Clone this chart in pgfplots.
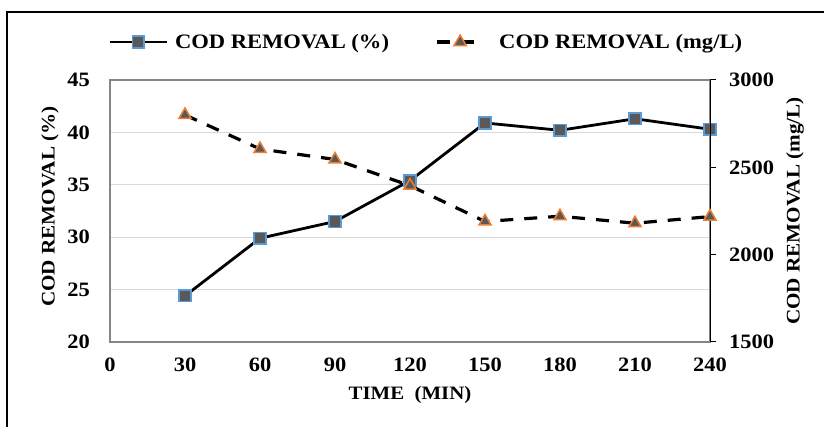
\documentclass[border=0pt]{standalone}
\usepackage{fontspec}
\setmainfont{Liberation Serif}[FakeStretch=1.1]
\usepackage{pgfplots}
\pgfplotsset{compat=1.18}

\definecolor{mkfill}{HTML}{595959}
\definecolor{sqedge}{HTML}{5B9BD5}
\definecolor{tredge}{HTML}{ED7D31}
\definecolor{gridgray}{HTML}{D9D9D9}
\definecolor{axisgray}{HTML}{868686}

\pgfplotsset{
  base/.style={
    scale only axis, width=600bp, height=262bp,
    at={(110bp,85bp)}, anchor=south west,
    xmin=0, xmax=240,
    /pgf/number format/assume math mode=true,
    /pgf/number format/1000 sep={},
    ticklabel style={font=\fontsize{20.5}{20.5}\selectfont\bfseries, inner sep=0pt},
    label style={font=\fontsize{19.3}{19.3}\selectfont\bfseries},
  },
  pctline/.style={black, line width=2.8bp, mark=square*, mark size=5.8bp,
    mark options={solid, fill=mkfill, draw=sqedge, line width=1.5bp}},
  mglline/.style={black, line width=3.2bp, dash pattern=on 13bp off 11bp,
    mark=triangle*, mark size=7bp,
    mark options={solid, fill=mkfill, draw=tredge, line width=1.5bp}},
  pctleg/.style={legend image code/.code={\draw[mark repeat=2,mark phase=2,##1]
    plot coordinates {(0bp,0bp)(28.5bp,0bp)(57bp,0bp)};
    \path (62bp,0bp);}},
  mglleg/.style={legend image code/.code={\draw[mark repeat=2,mark phase=2,##1]
    plot coordinates {(0bp,0bp)(23.5bp,0bp)(47bp,0bp)};
    \path (59bp,0bp);}},
}

\begin{document}
\begin{tikzpicture}
\useasboundingbox (0,0) rectangle (824bp,427bp);
% outer frame (top and left edges only visible)
\draw[line width=2bp] (7bp,-2bp) -- (7bp,415bp) -- (826bp,415bp);

\begin{axis}[base,
  ymin=20, ymax=45, ytick={20,25,...,45},
  xtick={0,30,...,240},
  axis line style={axisgray, line width=1.2bp},
  major tick length=0pt,
  ymajorgrids, grid style={gridgray, line width=1bp},
  yticklabel style={xshift=-20bp},
  xticklabel style={yshift=-16bp},
  xlabel={TIME\ \ (MIN)},
  xlabel style={font=\fontsize{19}{19}\selectfont\bfseries,
    at={(axis description cs:0.5,-0.202)}, anchor=center},
  ylabel={COD REMOVAL (\%)},
  ylabel style={at={(axis description cs:-0.1,0.517)}, anchor=center},
  legend columns=-1,
  legend style={draw=none, fill=none, inner sep=0pt,
    at={(axis description cs:-0.0033,1.145)}, anchor=west,
    font=\fontsize{20.6}{20.6}\selectfont\bfseries,
    /tikz/every even column/.append style={column sep=44bp}},
]
\addplot[pctline, pctleg]
  coordinates {(30,24.4)(60,29.9)(90,31.5)(120,35.4)(150,40.9)(180,40.2)(210,41.3)(240,40.3)};
\addlegendentry{COD REMOVAL (\%)}
\addlegendimage{mglline, mglleg}
\addlegendentry{COD REMOVAL (mg/L)}
\end{axis}

\begin{axis}[base,
  axis x line=none, axis y line*=right,
  ymin=1500, ymax=3000, ytick={1500,2000,...,3000},
  y axis line style={black, line width=1bp},
  tick align=outside, major tick length=6bp,
  ytick style={black, line width=1bp},
  yticklabel style={xshift=13bp},
  ylabel={COD REMOVAL (mg/L)},
  ylabel style={at={(axis description cs:1.1417,0.5)}, anchor=center},
]
\addplot[mglline]
  coordinates {(30,2800)(60,2605)(90,2545)(120,2395)(150,2190)(180,2220)(210,2180)(240,2218)};
\end{axis}
\end{tikzpicture}
\end{document}
